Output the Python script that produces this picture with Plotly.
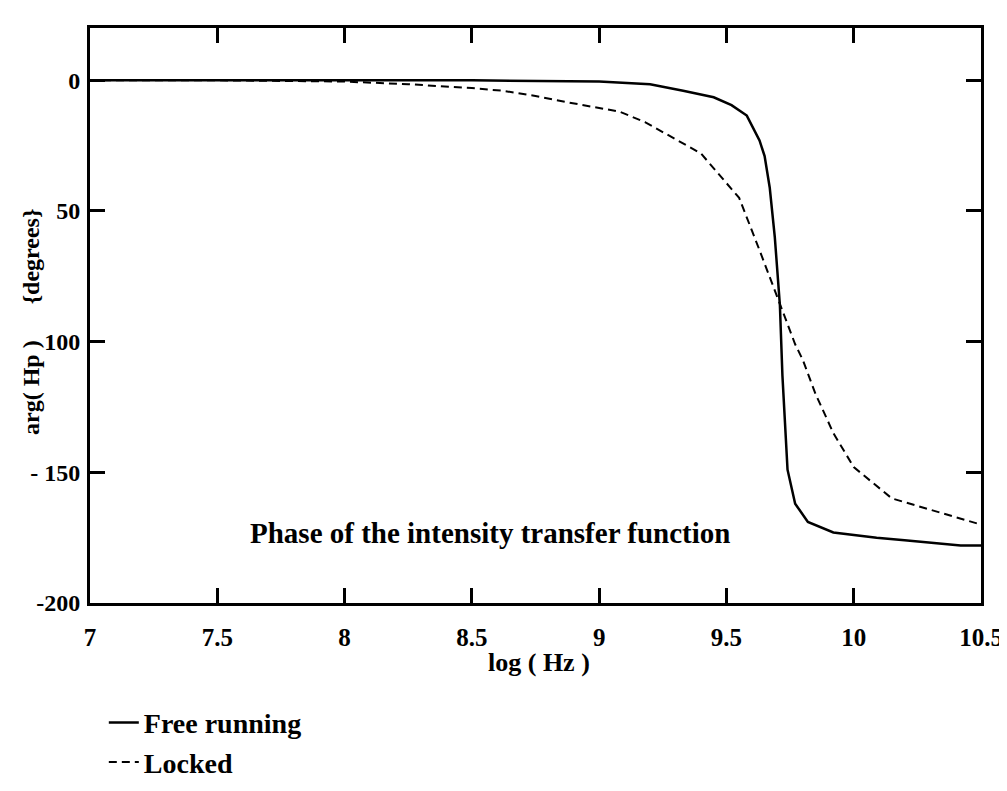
import plotly.graph_objects as go

# log10 frequency (Hz)
free_x = [7.0, 7.5, 8.0, 8.5, 9.0, 9.2, 9.33, 9.45, 9.52, 9.58, 9.63, 9.65, 9.67, 9.69,
          9.71, 9.72, 9.73, 9.74, 9.77, 9.82, 9.92, 10.09, 10.2, 10.32, 10.42, 10.5]
free_y = [0.0, 0.0, 0.0, 0.0, -0.5, -1.5, -4.0, -6.5, -9.5, -13.5, -23.0, -29.0, -41.0, -60.0,
          -86.0, -113.0, -131.0, -149.0, -162.0, -169.0, -173.0, -175.0, -176.0, -177.0, -178.0, -178.0]

locked_x = [7.0, 7.5, 8.0, 8.25, 8.5, 8.62, 8.75, 8.88, 9.08, 9.18, 9.4, 9.55, 9.63, 9.68,
            9.73, 9.77, 9.8, 9.85, 9.92, 10.0, 10.15, 10.32, 10.5]
locked_y = [0.0, 0.0, -0.5, -1.5, -3.0, -4.0, -6.0, -8.5, -12.0, -16.0, -28.0, -45.0, -65.0, -78.0,
            -91.0, -101.0, -107.0, -120.0, -135.0, -148.0, -160.0, -165.0, -170.0]

x_ticks = [7, 7.5, 8, 8.5, 9, 9.5, 10, 10.5]
x_ticktext = ["7", "7.5", "8", "8.5", "9", "9.5", "10", "10.5"]
y_ticks = [0, -50, -100, -150, -200]
y_ticktext = ["0", "50", "100", "- 150", "-200"]

SERIF = "Liberation Serif, Times New Roman, serif"
NB = "\u00a0"

fig = go.Figure()
fig.add_trace(go.Scatter(x=free_x, y=free_y, mode="lines", name="Free running",
                         line=dict(color="black", width=2.5)))
fig.add_trace(go.Scatter(x=locked_x, y=locked_y, mode="lines", name="Locked",
                         line=dict(color="black", width=2, dash="8px,5px")))

axis_common = dict(showline=True, linecolor="black", linewidth=3, mirror="allticks",
                   ticks="inside", ticklen=15, tickwidth=3, tickcolor="black",
                   showgrid=False, zeroline=False)

fig.update_xaxes(range=[7, 10.5], tickvals=x_ticks, ticktext=x_ticktext,
                 ticklabelstandoff=10,
                 tickfont=dict(family=SERIF, size=25, color="black", weight="bold"),
                 **axis_common)
fig.update_yaxes(range=[-200, 20], tickvals=y_ticks, ticktext=y_ticktext,
                 ticklabelstandoff=2,
                 tickfont=dict(family=SERIF, size=24, color="black", weight="bold"),
                 **axis_common)

fig.add_annotation(text="Phase of the intensity transfer function", xref="paper", yref="paper",
                   x=0.4485, y=0.122, showarrow=False, xanchor="center", yanchor="middle",
                   font=dict(family=SERIF, size=29, color="black", weight="bold"))
fig.add_annotation(text="log ( Hz )", xref="paper", yref="paper",
                   x=0.504, y=-0.104, showarrow=False, xanchor="center", yanchor="middle",
                   font=dict(family=SERIF, size=26, color="black", weight="bold"))
fig.add_annotation(text="arg( Hp )" + NB * 6 + "{degrees}", xref="paper", yref="paper",
                   x=-0.066, y=0.489, showarrow=False, textangle=-90,
                   xanchor="center", yanchor="middle",
                   font=dict(family=SERIF, size=24, color="black", weight="bold"))

fig.update_layout(
    width=1007, height=791,
    margin=dict(l=82, r=22, t=20, b=164),
    paper_bgcolor="white", plot_bgcolor="white",
    showlegend=True,
    legend=dict(x=0.0155, y=-0.165, xanchor="left", yanchor="top",
                font=dict(family=SERIF, size=28, color="black", weight="bold"),
                bgcolor="rgba(0,0,0,0)", tracegroupgap=0, itemwidth=30),
)

fig.write_html("out.html")
